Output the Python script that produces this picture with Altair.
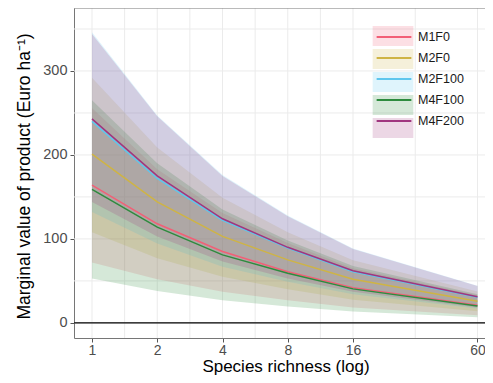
import altair as alt
import pandas as pd

# ---------------- data ----------------
richness = [1, 2, 4, 8, 16, 60]
models = ["M1F0", "M2F0", "M2F100", "M4F100", "M4F200"]
line_colors = ["#F25F76", "#CFB444", "#5EC6EE", "#2E8B3E", "#A0367F"]

mean_M1F0 = [164, 118, 85, 61, 42, 21]
mean_M2F0 = [201, 144, 103, 75, 52, 25.7]
mean_M2F100 = [240, 172, 122, 89, 61, 30.5]
mean_M4F100 = [159, 114, 81, 59, 40.5, 20.2]
mean_M4F200 = [243, 175, 124, 90, 62, 31]

lo_M1F0 = [72, 52, 37, 27, 18.4, 9.2]
hi_M1F0 = [256, 183, 131, 95, 65, 33]
lo_M2F0 = [108, 77, 55, 40, 27.5, 13.8]
hi_M2F0 = [292, 209, 149, 108, 74.5, 37.4]
lo_M2F100 = [132, 94.5, 67, 49, 34, 17]
hi_M2F100 = [346, 247, 176, 128, 88.5, 44.3]
lo_M4F100 = [53, 38, 27, 19.6, 13.5, 6.8]
hi_M4F100 = [265, 190, 135, 98, 67.6, 34]
lo_M4F200 = [144, 103, 73, 53, 37, 18.4]
hi_M4F200 = [344, 246, 175, 127, 88, 44]

x_ticks = [1, 2, 4, 8, 16, 60]
x_minor = [1.414, 2.828, 5.657, 11.31, 30.98]
y_ticks = [0, 100, 200, 300]
y_minor = [50, 150, 250, 350]

X_DOMAIN = [0.826, 65.0]
Y_DOMAIN = [-18, 375]

means = [mean_M1F0, mean_M2F0, mean_M2F100, mean_M4F100, mean_M4F200]
los = [lo_M1F0, lo_M2F0, lo_M2F100, lo_M4F100, lo_M4F200]
his = [hi_M1F0, hi_M2F0, hi_M2F100, hi_M4F100, hi_M4F200]

rows = []
for m, mv, lv, hv in zip(models, means, los, his):
    for r, a, b, c in zip(richness, mv, lv, hv):
        rows.append({"model": m, "model_fill": m, "richness": r, "mean": a, "lo": b, "hi": c})
df = pd.DataFrame(rows)

FONT = "Liberation Sans"

x_scale = alt.Scale(type="log", base=2, domain=X_DOMAIN, nice=False)
y_scale = alt.Scale(domain=Y_DOMAIN, nice=False, zero=False)

x_axis = alt.Axis(
    values=x_ticks, format="d", title="Species richness (log)", grid=False,
    labelFont=FONT, labelFontSize=14, labelColor="#4D4D4D", labelPadding=1,
    labelFlush=False, labelOverlap=False,
    tickColor="#555555", tickSize=4, domainColor="#767676", domainWidth=1,
    titleFont=FONT, titleFontSize=17, titleFontWeight="normal", titleColor="black",
    titleX=211.5, titleY=33, titleAlign="center", titleBaseline="alphabetic",
)
y_axis = alt.Axis(
    values=y_ticks, title="Marginal value of product (Euro ha\u207b\u00b9)", grid=False,
    labelFont=FONT, labelFontSize=14.5, labelColor="#4D4D4D", labelPadding=3,
    labelFlush=False, labelOverlap=False,
    tickColor="#555555", tickSize=4, domainColor="#767676", domainWidth=1,
    titleFont=FONT, titleFontSize=17.5, titleFontWeight="normal", titleColor="black",
    titleX=-50, titleY=168, titleAngle=270, titleAlign="center", titleBaseline="middle",
)


def X(field):
    return alt.X(field, type="quantitative", scale=x_scale, axis=x_axis)


def Y(field):
    return alt.Y(field, type="quantitative", scale=y_scale, axis=y_axis)


minor_x_df = pd.DataFrame({"richness": x_minor})
major_x_df = pd.DataFrame({"richness": x_ticks})
grid_y_df = pd.DataFrame({"mean": y_ticks + y_minor})

grid_x = alt.Chart(pd.concat([minor_x_df, major_x_df])).mark_rule(
    color="#EBEBEB", strokeWidth=1).encode(x=X("richness"))
grid_y = alt.Chart(grid_y_df).mark_rule(color="#EBEBEB", strokeWidth=1).encode(y=Y("mean"))

fill_legend = alt.Legend(
    orient="none", legendX=308, legendY=17, title=None, padding=0, rowPadding=2,
    symbolType="M-1.875,-0.92H1.875V0.92H-1.875Z", symbolSize=471,
    symbolOpacity=0.2, symbolStrokeWidth=0,
    labelFont=FONT, labelFontSize=12.5, labelExpr="''", labelOffset=13,
)
stroke_legend = alt.Legend(
    orient="none", legendX=308, legendY=17, title=None, padding=0, rowPadding=2,
    symbolType="M-1.6,0H1.6", symbolSize=471, symbolStrokeWidth=2.2,
    labelFont=FONT, labelFontSize=12.5, labelColor="#1A1A1A", labelOffset=12,
)

areas = alt.Chart(df).mark_area(opacity=0.2).encode(
    x=X("richness"),
    y=Y("lo"),
    y2="hi:Q",
    fill=alt.Fill("model_fill:N", scale=alt.Scale(domain=models, range=line_colors),
                  legend=fill_legend),
)

lines = alt.Chart(df).mark_line(strokeWidth=1.5).encode(
    x=X("richness"),
    y=Y("mean"),
    stroke=alt.Stroke("model:N", scale=alt.Scale(domain=models, range=line_colors),
                      legend=stroke_legend),
    order=alt.Order("richness:Q"),
)

zero_line = alt.Chart(pd.DataFrame({"mean": [0]})).mark_rule(
    color="black", strokeWidth=1.2).encode(y=Y("mean"))
top_border = alt.Chart(pd.DataFrame({"mean": [Y_DOMAIN[1]]})).mark_rule(
    color="#767676", strokeWidth=1).encode(y=Y("mean"))

chart = alt.layer(grid_x, grid_y, areas, lines, zero_line, top_border).resolve_legend(
    fill="independent", stroke="independent"
).properties(
    width=411, height=330,
    autosize=alt.AutoSizeParams(type="none"),
    padding={"left": 66, "top": 0, "right": 0, "bottom": 37},
    background="white",
).configure_view(stroke=None)

chart.save("out.html", embed_options={"renderer": "svg", "actions": False})
